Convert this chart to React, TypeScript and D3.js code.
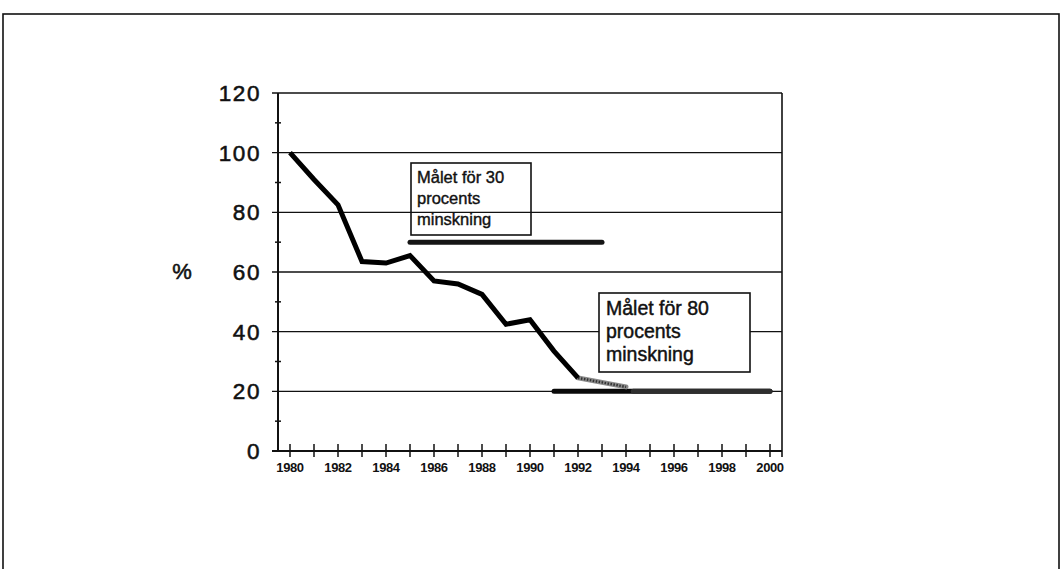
import React from "react";
import * as d3 from "d3";

const years = d3.range(1980, 2001);
const yTicks = [0, 20, 40, 60, 80, 100, 120];
const yMinor = [10, 30, 50, 70, 90, 110];
const xTickLabels = [1980, 1982, 1984, 1986, 1988, 1990, 1992, 1994, 1996, 1998, 2000];

const actualYears = [1980, 1981, 1982, 1983, 1984, 1985, 1986, 1987, 1988, 1989, 1990, 1991, 1992];
const actualValues = [100, 91, 82.5, 63.5, 63, 65.5, 57, 56, 52.5, 42.5, 44, 33.5, 24.5];
const projYears = [1992, 1993, 1994];
const projValues = [24.5, 23, 21.5];
const target30Years = [1985, 1993];
const target30Values = [70, 70];
const target80Years = [1991, 2000];
const target80Values = [20, 20];

const label30 = ["Målet för 30", "procents", "minskning"];
const label80 = ["Målet för 80", "procents", "minskning"];

export default function App() {
  const W = 1064, H = 569;
  const plotL = 278, plotR = 782, plotT = 93, plotB = 451;
  const xBand = d3.scaleBand<number>().domain(years).range([plotL, plotR]);
  const x = (yr: number) => plotL + xBand.bandwidth() * (yr - 1980 + 0.5);
  const y = d3.scaleLinear().domain([0, 120]).range([plotB, plotT]);
  const line = d3.line<[number, number]>().x(d => x(d[0])).y(d => y(d[1]));
  const zip = (a: number[], b: number[]) => a.map((v, i) => [v, b[i]] as [number, number]);
  const font = "'Liberation Sans', Arial, Helvetica, sans-serif";
  const heavy = { stroke: "#111", strokeWidth: 0.55, paintOrder: "stroke" } as any;

  return (
    <svg width={W} height={H} style={{ position: "absolute", left: 0, top: 0, background: "#fff" }}>
      <rect x={3} y={14} width={1056} height={620} fill="none" stroke="#111" strokeWidth={1.6} />
      {/* gridlines */}
      {yTicks.map(t => (
        <line key={"g" + t} x1={plotL - 6} x2={plotR} y1={y(t)} y2={y(t)} stroke="#111" strokeWidth={t === 0 ? 2 : 1.3} />
      ))}
      {yMinor.map(t => (
        <line key={"m" + t} x1={plotL - 3} x2={plotL + 3} y1={y(t)} y2={y(t)} stroke="#111" strokeWidth={1.5} />
      ))}
      <line x1={plotL} x2={plotL} y1={plotT} y2={plotB} stroke="#111" strokeWidth={2} />
      <line x1={plotR} x2={plotR} y1={plotT} y2={plotB + 6} stroke="#111" strokeWidth={1.6} />
      {/* x ticks */}
      {years.map(yr => (
        <line key={"xt" + yr} x1={x(yr)} x2={x(yr)} y1={plotB - 7} y2={plotB + 6} stroke="#111" strokeWidth={1.5} />
      ))}
      {xTickLabels.map(yr => (
        <text key={"xl" + yr} x={x(yr)} y={472} textAnchor="middle" fontFamily={font} fontWeight="bold" fontSize={13} fill="#111" letterSpacing={-0.4}>
          {yr}
        </text>
      ))}
      {yTicks.map(t => (
        <text key={"yl" + t} x={261} y={y(t) + 8} textAnchor="end" fontFamily={font} fontSize={22.5} fill="#111" letterSpacing={1.6} {...heavy}>
          {t}
        </text>
      ))}
      <text x={182} y={279} textAnchor="middle" fontFamily={font} fontSize={22} fill="#111" {...heavy}>%</text>

      {/* box 30 */}
      <rect x={x(1985) + 1} y={163} width={120} height={72} fill="none" stroke="#111" strokeWidth={1.6} />
      {label30.map((s, i) => (
        <text key={"l30" + i} x={x(1985) + 7} y={183 + i * 21} fontFamily={font} fontSize={16.5} fill="#111" {...heavy} strokeWidth={0.4}>{s}</text>
      ))}
      {/* target lines */}
      <path d={line(zip(target30Years, target30Values)) || ""} stroke="#151515" strokeWidth={5} fill="none" strokeLinecap="round" />
      <path d={line(zip(target80Years, target80Values)) || ""} stroke="#0a0a0a" strokeWidth={5} fill="none" strokeLinecap="round" />
      <path d={line([[1994.3, 20], [2000, 20]]) || ""} stroke="#2e2e2e" strokeWidth={5} fill="none" strokeLinecap="round" />

      {/* box 80 */}
      <rect x={599} y={293} width={151} height={79} fill="#fff" stroke="#111" strokeWidth={1.6} />
      {label80.map((s, i) => (
        <text key={"l80" + i} x={606} y={315 + i * 23} fontFamily={font} fontSize={19.5} fill="#111" {...heavy} strokeWidth={0.45}>{s}</text>
      ))}

      {/* data */}
      <path d={line(zip(projYears, projValues)) || ""} stroke="#8a8a8a" strokeWidth={5} fill="none" strokeLinecap="round" />
      <path d={line(zip(projYears, projValues)) || ""} stroke="#333" strokeWidth={2.5} strokeDasharray="1.5 1.5" fill="none" />
      <path d={line(zip(actualYears, actualValues)) || ""} stroke="#000" strokeWidth={5} fill="none" strokeLinejoin="miter" strokeLinecap="butt" />
    </svg>
  );
}
